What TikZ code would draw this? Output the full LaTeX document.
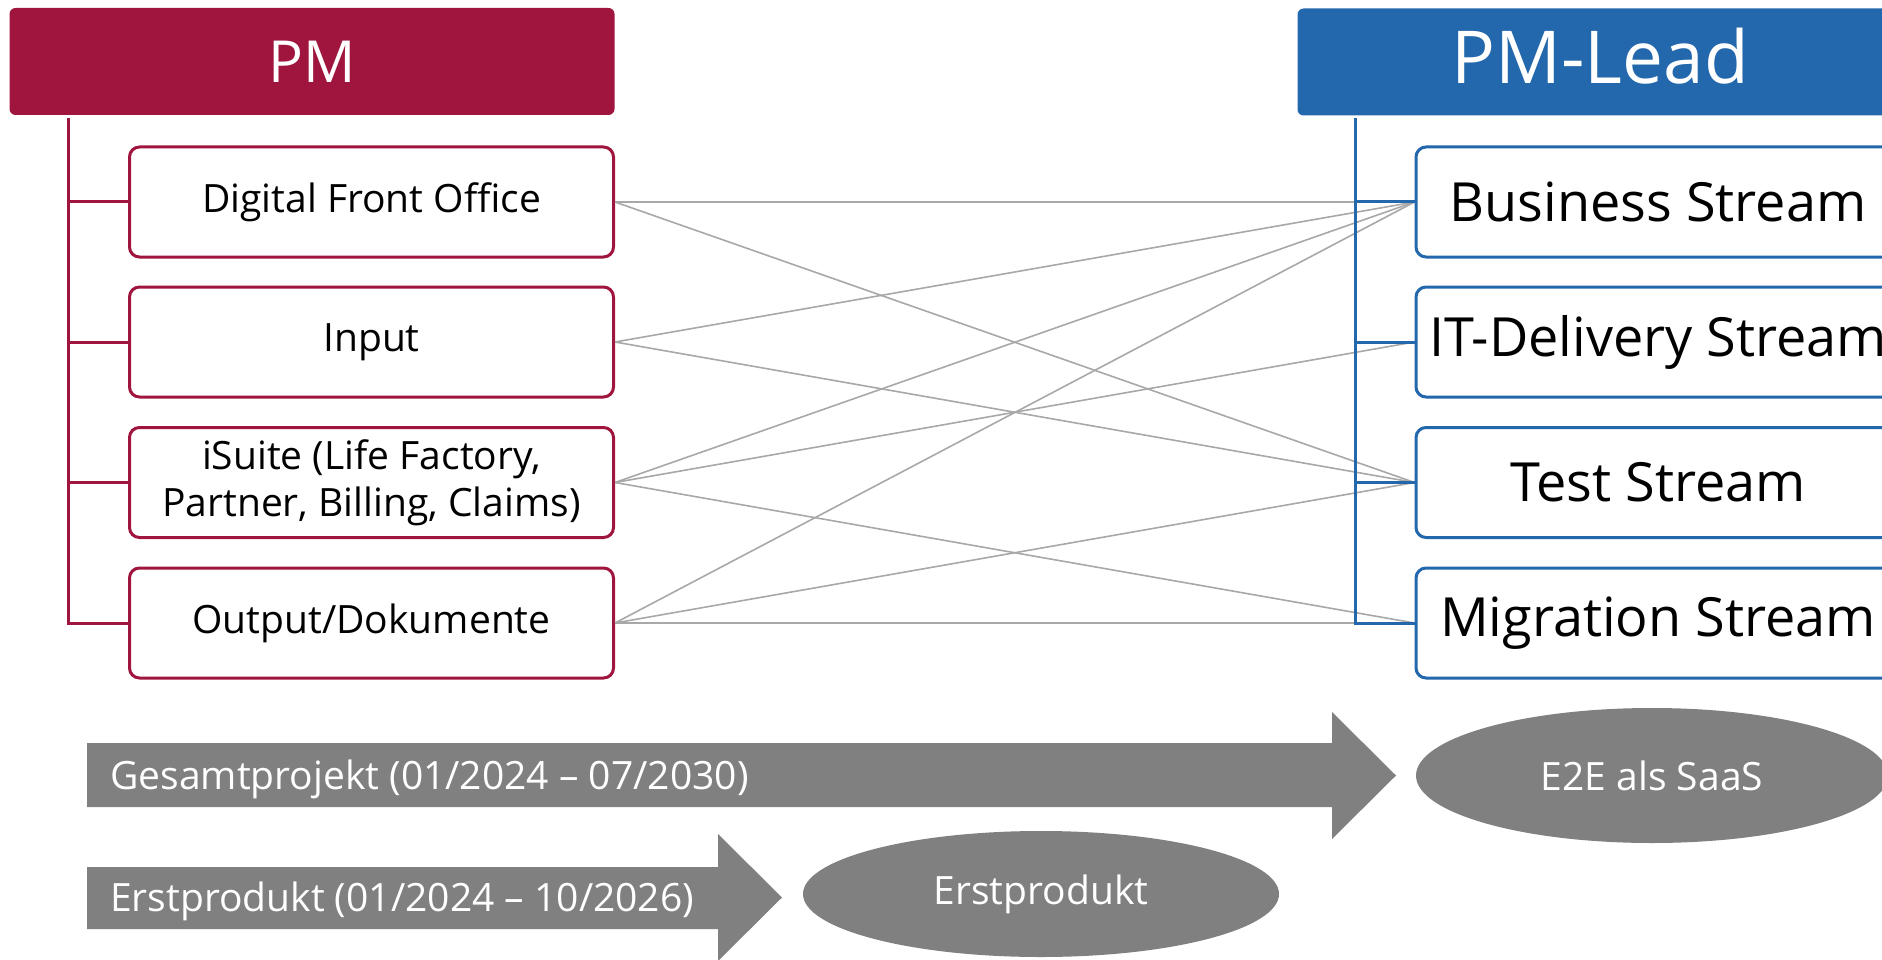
\documentclass[tikz,border=0pt]{standalone}
\usepackage{fontspec}
\setmainfont{Open Sans}
\usepackage{tikz}
\usetikzlibrary{positioning,shapes.geometric,calc}

\definecolor{pmred}{HTML}{A0153E}
\definecolor{leadblue}{HTML}{2367AC}
\definecolor{linkgray}{HTML}{A8A8A8}
\definecolor{bargray}{HTML}{808080}

\begin{document}
\begin{tikzpicture}[x=1pt,y=-1pt,
	hdbox/.style={fill=#1, rounded corners=6pt, minimum width=605pt, minimum height=107pt, inner sep=0pt, text=white},
	pmbox/.style={draw=pmred, line width=3pt, fill=white, rounded corners=10pt, minimum width=484pt, minimum height=110pt, inner sep=2pt, align=center, font=\fontsize{39}{47}\selectfont},
	leadbox/.style={draw=leadblue, line width=3pt, fill=white, rounded corners=10pt, minimum width=484pt, minimum height=110pt, inner sep=2pt, font=\fontsize{54}{64}\selectfont},
	pmtree/.style={draw=pmred, line width=3pt},
	leadtree/.style={draw=leadblue, line width=3pt},
	conn/.style={draw=linkgray, line width=1.6pt},
	goal/.style={ellipse, fill=bargray, text=white, inner sep=0pt, font=\fontsize{39}{47}\selectfont},
	bartext/.style={anchor=west, text=white, inner sep=0pt, font=\fontsize{39}{47}\selectfont}]
				\useasboundingbox (0,0) rectangle (1882,960);
				\clip (0,0) rectangle (1882,960);
				\node[hdbox=pmred, font=\fontsize{58}{68}\selectfont] (pm) at (312,61.5) {PM};
				\node[hdbox=leadblue, font=\fontsize{73}{86}\selectfont, text depth=12pt] (lead) at (1600,62) {PM-Lead};
				\node[pmbox] (dfo) at (371.5,202) {\raisebox{-2pt}{Digital Front Office}};
				\node[pmbox] (inp) at (371.5,342) {\raisebox{-2pt}{Input}};
				\node[pmbox] (isu) at (371.5,482.5) {iSuite (Life Factory,\\Partner, Billing, Claims)};
				\node[pmbox] (out) at (371.5,623) {\raisebox{-2pt}{Output/Dokumente}};
				\node[leadbox] (bus) at (1658,202) {Business Stream};
				\node[leadbox] (itd) at (1658,342) {IT-Delivery Stream};
				\node[leadbox] (tst) at (1658,482.5) {Test Stream};
				\node[leadbox] (mig) at (1658,623) {Migration Stream};
				\draw[conn] (dfo.east) -- (bus.west);
				\draw[conn] (dfo.east) -- (tst.west);
				\draw[conn] (inp.east) -- (bus.west);
				\draw[conn] (inp.east) -- (tst.west);
				\draw[conn] (isu.east) -- (bus.west);
				\draw[conn] (isu.east) -- (itd.west);
				\draw[conn] (isu.east) -- (mig.west);
				\draw[conn] (out.east) -- (bus.west);
				\draw[conn] (out.east) -- (tst.west);
				\draw[conn] (out.east) -- (mig.west);
				\coordinate (pmroot) at (68,118);
				\coordinate (leadroot) at (1355.5,118);
				\draw[pmtree] (pmroot) |- (out.west);
				\draw[pmtree] (pmroot |- dfo.west) -- (dfo.west);
				\draw[pmtree] (pmroot |- inp.west) -- (inp.west);
				\draw[pmtree] (pmroot |- isu.west) -- (isu.west);
				\draw[leadtree] (leadroot) |- (mig.west);
				\draw[leadtree] (leadroot |- bus.west) -- (bus.west);
				\draw[leadtree] (leadroot |- itd.west) -- (itd.west);
				\draw[leadtree] (leadroot |- tst.west) -- (tst.west);
				\fill[bargray] (87,743) -- (1332,743) -- (1332,712) -- (1396,775.5) -- (1332,839) -- (1332,807) -- (87,807) -- cycle;
				\fill[bargray] (87,867) -- (718,867) -- (718,834) -- (782,897.5) -- (718,961) -- (718,929) -- (87,929) -- cycle;
				\node[bartext] (ges) at (110,779) {Gesamtprojekt (01/2024 -- 07/2030)};
				\node[bartext] (ers) at (110,901) {Erstprodukt (01/2024 -- 10/2026)};
				\node[goal, minimum width=472pt, minimum height=135pt] (e2e) at (1652,775.5) {E2E als SaaS};
				\node[goal, minimum width=476pt, minimum height=126pt] (ep) at (1041,894) {\raisebox{-3pt}{Erstprodukt}};
\end{tikzpicture}
\end{document}
